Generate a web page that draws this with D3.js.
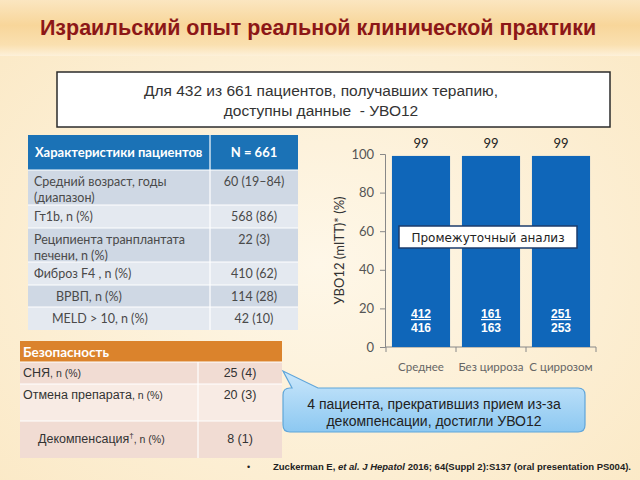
<!DOCTYPE html>
<html><head><meta charset="utf-8">
<script src="https://cdn.jsdelivr.net/npm/d3@7"></script>
<style>html,body{margin:0;padding:0;background:#fdf2da;}svg{display:block}</style>
</head><body>
<script>
const titleText = "Израильский опыт реальной клинической практики";
const boxLines = ["Для 432 из 661 пациентов, получавших терапию,", "доступны данные\u00a0 - УВО12"];
const charHeader = ["Характеристики пациентов", "N = 661"];
const charLabels = [["Средний возраст, годы", "(диапазон)"], ["Гт1b, n (%)"], ["Реципиента транплантата", "печени, n (%)"], ["Фиброз F4 , n (%)"], ["ВРВП, n (%)"], ["MELD > 10, n (%)"]];
const charValues = ["60 (19–84)", "568 (86)", "22 (3)", "410 (62)", "114 (28)", "42 (10)"];
const charIndent = [0, 0, 0, 0, 1, 1];
const safetyHeader = "Безопасность";
const safetyLabels = ["СНЯ", "Отмена препарата", "Декомпенсация"];
const safetyValues = ["25 (4)", "20 (3)", "8 (1)"];
const categories = ["Среднее", "Без цирроза", "С циррозом"];
const svr12 = [99, 99, 99];
const numerators = [412, 161, 251];
const denominators = [416, 163, 253];
const yTicks = [0, 20, 40, 60, 80, 100];
const yLabel = "УВО12 (mITT)* (%)";
const interimText = "Промежуточный анализ";
const calloutLines = ["4 пациента, прекратившиз прием из-за", "декомпенсации, достигли УВО12"];

const W = 640, H = 480;
const svg = d3.select("body").append("svg").attr("width", W).attr("height", H);
const defs = svg.append("defs");

// background
const bg = defs.append("radialGradient").attr("id", "bg").attr("cx", "50%").attr("cy", "55%").attr("r", "70%");
bg.append("stop").attr("offset", "0%").attr("stop-color", "#fef7e8");
bg.append("stop").attr("offset", "100%").attr("stop-color", "#fbe9c6");
svg.append("rect").attr("width", W).attr("height", H).attr("fill", "url(#bg)");
const band = defs.append("linearGradient").attr("id", "band").attr("x1", 0).attr("y1", 0).attr("x2", 0).attr("y2", 1);
band.append("stop").attr("offset", "0%").attr("stop-color", "#fbe6c0");
band.append("stop").attr("offset", "45%").attr("stop-color", "#f8d69a");
band.append("stop").attr("offset", "80%").attr("stop-color", "#fae0b0");
band.append("stop").attr("offset", "100%").attr("stop-color", "#fdf1da");
svg.append("rect").attr("x", 0).attr("y", 0).attr("width", W).attr("height", 56).attr("fill", "url(#band)");

svg.append("text").attr("x", 318).attr("y", 35).attr("text-anchor", "middle")
  .attr("font-family", "Liberation Sans, Arial, sans-serif").attr("font-weight", "bold")
  .attr("font-size", 21.5).attr("fill", "#8c1717").text(titleText);

// info box
svg.append("rect").attr("x", 57).attr("y", 72).attr("width", 553).attr("height", 55)
  .attr("fill", "#ffffff").attr("stroke", "#2b2b2b").attr("stroke-width", 1.5);
boxLines.forEach((t, i) => svg.append("text").attr("x", 321).attr("y", 96 + i * 20)
  .attr("text-anchor", "middle").attr("font-family", "Liberation Sans, Arial, sans-serif")
  .attr("font-size", 15.5).attr("fill", "#333").text(t));

// characteristics table
const tFont = "Lato, 'Open Sans', sans-serif";
const tX0 = 28, tX1 = 210, tX2 = 298;
const rowTops = [170, 205, 228, 262, 285, 307];
const rowBots = [205, 228, 262, 285, 307, 330];
svg.append("rect").attr("x", tX0).attr("y", 135).attr("width", tX2 - tX0).attr("height", 35).attr("fill", "#1b72b6");
svg.append("text").attr("x", 35).attr("y", 157).attr("font-family", tFont).attr("font-weight", "bold")
  .attr("font-size", 13).attr("fill", "#fff").text(charHeader[0]);
svg.append("text").attr("x", 254).attr("y", 157).attr("text-anchor", "middle").attr("font-family", tFont)
  .attr("font-weight", "bold").attr("font-size", 13).attr("fill", "#fff").text(charHeader[1]);
charLabels.forEach((lines, i) => {
  const y0 = rowTops[i], y1 = rowBots[i];
  svg.append("rect").attr("x", tX0).attr("y", y0).attr("width", tX2 - tX0).attr("height", y1 - y0)
    .attr("fill", i % 2 === 0 ? "#cfd8e4" : "#e4e9f0");
  const ind = charIndent[i] ? (i === 4 ? 22 : 18) : 0;
  lines.forEach((t, j) => svg.append("text").attr("x", 34 + ind).attr("y", y0 + 16 + j * 16)
    .attr("font-family", tFont).attr("font-size", 12.5).attr("fill", "#4a4a4a").text(t));
  svg.append("text").attr("x", 254).attr("y", y0 + 16).attr("text-anchor", "middle")
    .attr("font-family", tFont).attr("font-size", 12.5).attr("fill", "#4a4a4a").text(charValues[i]);
});
rowTops.forEach(y => svg.append("line").attr("x1", tX0).attr("x2", tX2).attr("y1", y).attr("y2", y).attr("stroke", "#fff").attr("stroke-width", 1));
svg.append("line").attr("x1", tX1).attr("x2", tX1).attr("y1", 135).attr("y2", 330).attr("stroke", "#fff").attr("stroke-width", 1.2);

// safety table
const sX0 = 20, sX1 = 198, sX2 = 282;
const sTops = [362, 384, 421];
const sBots = [384, 421, 458];
svg.append("rect").attr("x", sX0).attr("y", 341).attr("width", sX2 - sX0).attr("height", 21).attr("fill", "#db832c");
svg.append("text").attr("x", 23).attr("y", 356.5).attr("font-family", tFont).attr("font-weight", "bold")
  .attr("font-size", 13.5).attr("fill", "#fff").text(safetyHeader);
safetyLabels.forEach((t, i) => {
  const y0 = sTops[i], y1 = sBots[i];
  svg.append("rect").attr("x", sX0).attr("y", y0).attr("width", sX2 - sX0).attr("height", y1 - y0)
    .attr("fill", i % 2 === 0 ? "#f1dcd3" : "#f8ebe4");
  const ty = i === 2 ? y0 + 22 : y0 + 15;
  const tx = i === 2 ? 38 : 23;
  const tt = svg.append("text").attr("x", tx).attr("y", ty).attr("font-family", "Liberation Sans, Arial, sans-serif")
    .attr("font-size", 12.5).attr("fill", "#333");
  tt.append("tspan").text(t);
  if (i === 2) tt.append("tspan").attr("dy", -5).attr("font-size", 8).text("†");
  tt.append("tspan").attr("dy", i === 2 ? 5 : 0).attr("font-size", 10.5).text(", n (%)");
  svg.append("text").attr("x", 240).attr("y", ty).attr("text-anchor", "middle")
    .attr("font-family", "Liberation Sans, Arial, sans-serif").attr("font-size", 12.5).attr("fill", "#333").text(safetyValues[i]);
});
sTops.forEach(y => svg.append("line").attr("x1", sX0).attr("x2", sX2).attr("y1", y).attr("y2", y).attr("stroke", "#fff"));
svg.append("line").attr("x1", sX1).attr("x2", sX1).attr("y1", 362).attr("y2", 458).attr("stroke", "#fff").attr("stroke-width", 1.2);

// bar chart
const y = d3.scaleLinear().domain([0, 100]).range([347, 154]);
const x = d3.scaleBand().domain(categories).range([386, 596]).paddingInner(0.17).paddingOuter(0.085);
const yAxis = svg.append("g").attr("transform", "translate(385,0)")
  .call(d3.axisLeft(y).tickValues(yTicks).tickSize(5).tickPadding(6));
yAxis.select(".domain").attr("stroke", "#888");
yAxis.selectAll(".tick line").attr("stroke", "#888");
yAxis.selectAll(".tick text").attr("font-family", tFont).attr("font-size", 13).attr("fill", "#555");

const xBounds = categories.map(c => x(c) - x.step() * x.paddingInner() / 2).concat([x.range()[1]]);
svg.append("line").attr("x1", 385).attr("x2", x.range()[1]).attr("y1", y(0)).attr("y2", y(0)).attr("stroke", "#888");
svg.selectAll(".xt").data(xBounds).enter().append("line").attr("x1", d => d).attr("x2", d => d)
  .attr("y1", y(0)).attr("y2", y(0) + 5).attr("stroke", "#888");

svg.selectAll(".bar").data(svr12).enter().append("rect")
  .attr("x", (d, i) => x(categories[i])).attr("width", x.bandwidth())
  .attr("y", d => y(d)).attr("height", d => y(0) - y(d)).attr("fill", "#0f66b9");
svg.selectAll(".vl").data(svr12).enter().append("text")
  .attr("x", (d, i) => x(categories[i]) + x.bandwidth() / 2).attr("y", d => y(d) - 8)
  .attr("text-anchor", "middle").attr("font-family", tFont).attr("font-size", 13).attr("fill", "#222").text(d => d);
categories.forEach((c, i) => {
  const cx = x(c) + x.bandwidth() / 2;
  svg.append("text").attr("x", cx).attr("y", 318).attr("text-anchor", "middle")
    .attr("font-family", "Liberation Sans, Arial, sans-serif").attr("font-weight", "bold").attr("font-size", 12)
    .attr("fill", "#fff").attr("text-decoration", "underline").text(numerators[i]);
  svg.append("text").attr("x", cx).attr("y", 332).attr("text-anchor", "middle")
    .attr("font-family", "Liberation Sans, Arial, sans-serif").attr("font-weight", "bold").attr("font-size", 12)
    .attr("fill", "#fff").text(denominators[i]);
  svg.append("text").attr("x", cx).attr("y", 371).attr("text-anchor", "middle")
    .attr("font-family", tFont).attr("font-size", 11.5).attr("fill", "#666").text(c);
});
svg.append("text").attr("transform", "translate(344," + ((y(0) + y(100)) / 2) + ") rotate(-90)")
  .attr("text-anchor", "middle").attr("font-family", tFont).attr("font-size", 13).attr("fill", "#333").text(yLabel);

// interim box
svg.append("rect").attr("x", 399).attr("y", 226).attr("width", 178).attr("height", 22)
  .attr("fill", "#fff").attr("stroke", "#1c3c6c").attr("stroke-width", 1.5);
svg.append("text").attr("x", 488).attr("y", 241.5).attr("text-anchor", "middle")
  .attr("font-family", "'DejaVu Sans', sans-serif").attr("font-size", 12).attr("fill", "#222").text(interimText);

// callout
const cg = defs.append("linearGradient").attr("id", "cg").attr("x1", 0).attr("y1", 0).attr("x2", 0).attr("y2", 1);
cg.append("stop").attr("offset", "0%").attr("stop-color", "#cbe7fb");
cg.append("stop").attr("offset", "100%").attr("stop-color", "#8cc8f1");
const cx0 = 283, cy0 = 388, cx1 = 585, cy1 = 432, r = 7;
const path = `M${cx0},${cy0 + r} Q${cx0},${cy0} ${cx0 + r},${cy0} L292,${cy0} L283,371 L318,${cy0} L${cx1 - r},${cy0} ` +
  `Q${cx1},${cy0} ${cx1},${cy0 + r} L${cx1},${cy1 - r} Q${cx1},${cy1} ${cx1 - r},${cy1} L${cx0 + r},${cy1} ` +
  `Q${cx0},${cy1} ${cx0},${cy1 - r} Z`;
svg.append("path").attr("d", path).attr("fill", "url(#cg)").attr("stroke", "#5fa5da").attr("stroke-width", 1.2);
calloutLines.forEach((t, i) => svg.append("text").attr("x", 434).attr("y", 409 + i * 17)
  .attr("text-anchor", "middle").attr("font-family", "Liberation Sans, Arial, sans-serif")
  .attr("font-size", 14).attr("fill", "#222").text(t));

// footnote
svg.append("text").attr("x", 247).attr("y", 470).attr("font-family", "Liberation Sans, Arial, sans-serif")
  .attr("font-size", 9).attr("fill", "#222").text("•");
const fn = svg.append("text").attr("x", 273).attr("y", 470).attr("font-family", "Liberation Sans, Arial, sans-serif")
  .attr("font-weight", "bold").attr("font-size", 9.5).attr("fill", "#222");
fn.append("tspan").text("Zuckerman E, ");
fn.append("tspan").attr("font-style", "italic").text("et al. J Hepatol");
fn.append("tspan").text(" 2016; 64(Suppl 2):S137 (oral presentation PS004).");
</script>
</body></html>
